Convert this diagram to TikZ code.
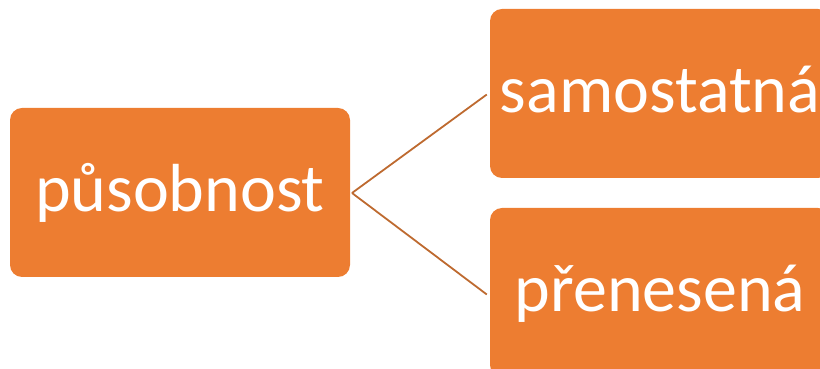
\documentclass[tikz,border=0pt]{standalone}
\usepackage{fontspec}
\setmainfont{Carlito}
\definecolor{boxorange}{HTML}{ED7D31}
\definecolor{linkbrown}{HTML}{BE6A30}
\begin{document}
\begin{tikzpicture}[x=1pt,y=1pt,
  box/.style={fill=boxorange, rounded corners=12pt, minimum width=340pt, minimum height=169pt,
    text=white, font=\fontsize{68}{72}\selectfont, text height=51pt, text depth=13pt, inner sep=0pt},
  link/.style={draw=linkbrown, line width=1.8pt}]
\useasboundingbox (0,0) rectangle (820,369);
\clip (0,0) rectangle (820,369);
\node[box] (root) at (180,176.5) {působnost};
\node[box] (top) at (660,275.5) {samostatná};
\node[box] (bot) at (660,76.5) {přenesená};
\coordinate (fork) at (352,176);
\draw[link] (fork) -- ([xshift=-3pt,yshift=-1pt]top.west);
\draw[link] (fork) -- ([xshift=-3pt,yshift=-2pt]bot.west);
\end{tikzpicture}
\end{document}
